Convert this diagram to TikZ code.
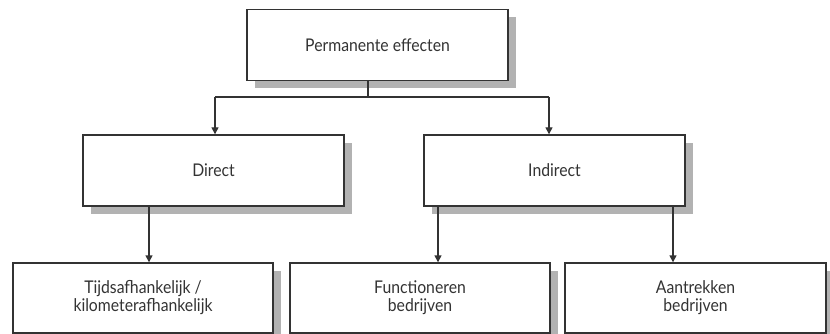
\documentclass[tikz,border=0pt]{standalone}
\usepackage{fontspec}
\setmainfont{Lato}[FakeStretch=0.9]
\usetikzlibrary{arrows.meta,shadows}
\definecolor{ink}{HTML}{333333}
\begin{document}
\begin{tikzpicture}[x=1pt,y=-1pt,
  box/.style={draw=ink, line width=1.4pt, fill=white, minimum width=261pt, minimum height=71pt,
    align=center, font=\fontsize{17.5}{18}\selectfont, text=ink, inner sep=0pt,
    drop shadow={shadow xshift=8pt, shadow yshift=-8pt, fill=black!30, opacity=1}},
  conn/.style={draw=ink, line width=1.4pt},
  arr/.style={conn, -{Triangle[length=7pt,width=7pt]}}]
\useasboundingbox (0,0) rectangle (830,334);
\fill[white] (0,0) rectangle (830,334);
\node[box] (top) at (377.5,45) {Permanente effecten};
\node[box] (direct) at (213.5,170.5) {Direct};
\node[box] (indirect) at (554.5,170.5) {Indirect};
\node[box, minimum width=260pt, minimum height=70pt] (b1) at (143,298) {Tijdsafhankelijk /\\kilometerafhankelijk};
\node[box, minimum width=260pt, minimum height=70pt] (b2) at (420,298) {Functioneren\\bedrijven};
\node[box, minimum width=261pt, minimum height=70pt] (b3) at (695.5,298) {Aantrekken\\bedrijven};
\coordinate (j) at (368,97);
\coordinate (jl) at (215,97);
\coordinate (jr) at (549,97);
\draw[conn] (top.south -| j) -- (j);
\draw[conn] (jl) -- (jr);
\draw[arr] (jl) -- (direct.north -| jl);
\draw[arr] (jr) -- (indirect.north -| jr);
\draw[arr] (direct.south -| 149,0) -- (b1.north -| 149,0);
\draw[arr] (indirect.south -| 438,0) -- (b2.north -| 438,0);
\draw[arr] (indirect.south -| 673,0) -- (b3.north -| 673,0);
\end{tikzpicture}
\end{document}
